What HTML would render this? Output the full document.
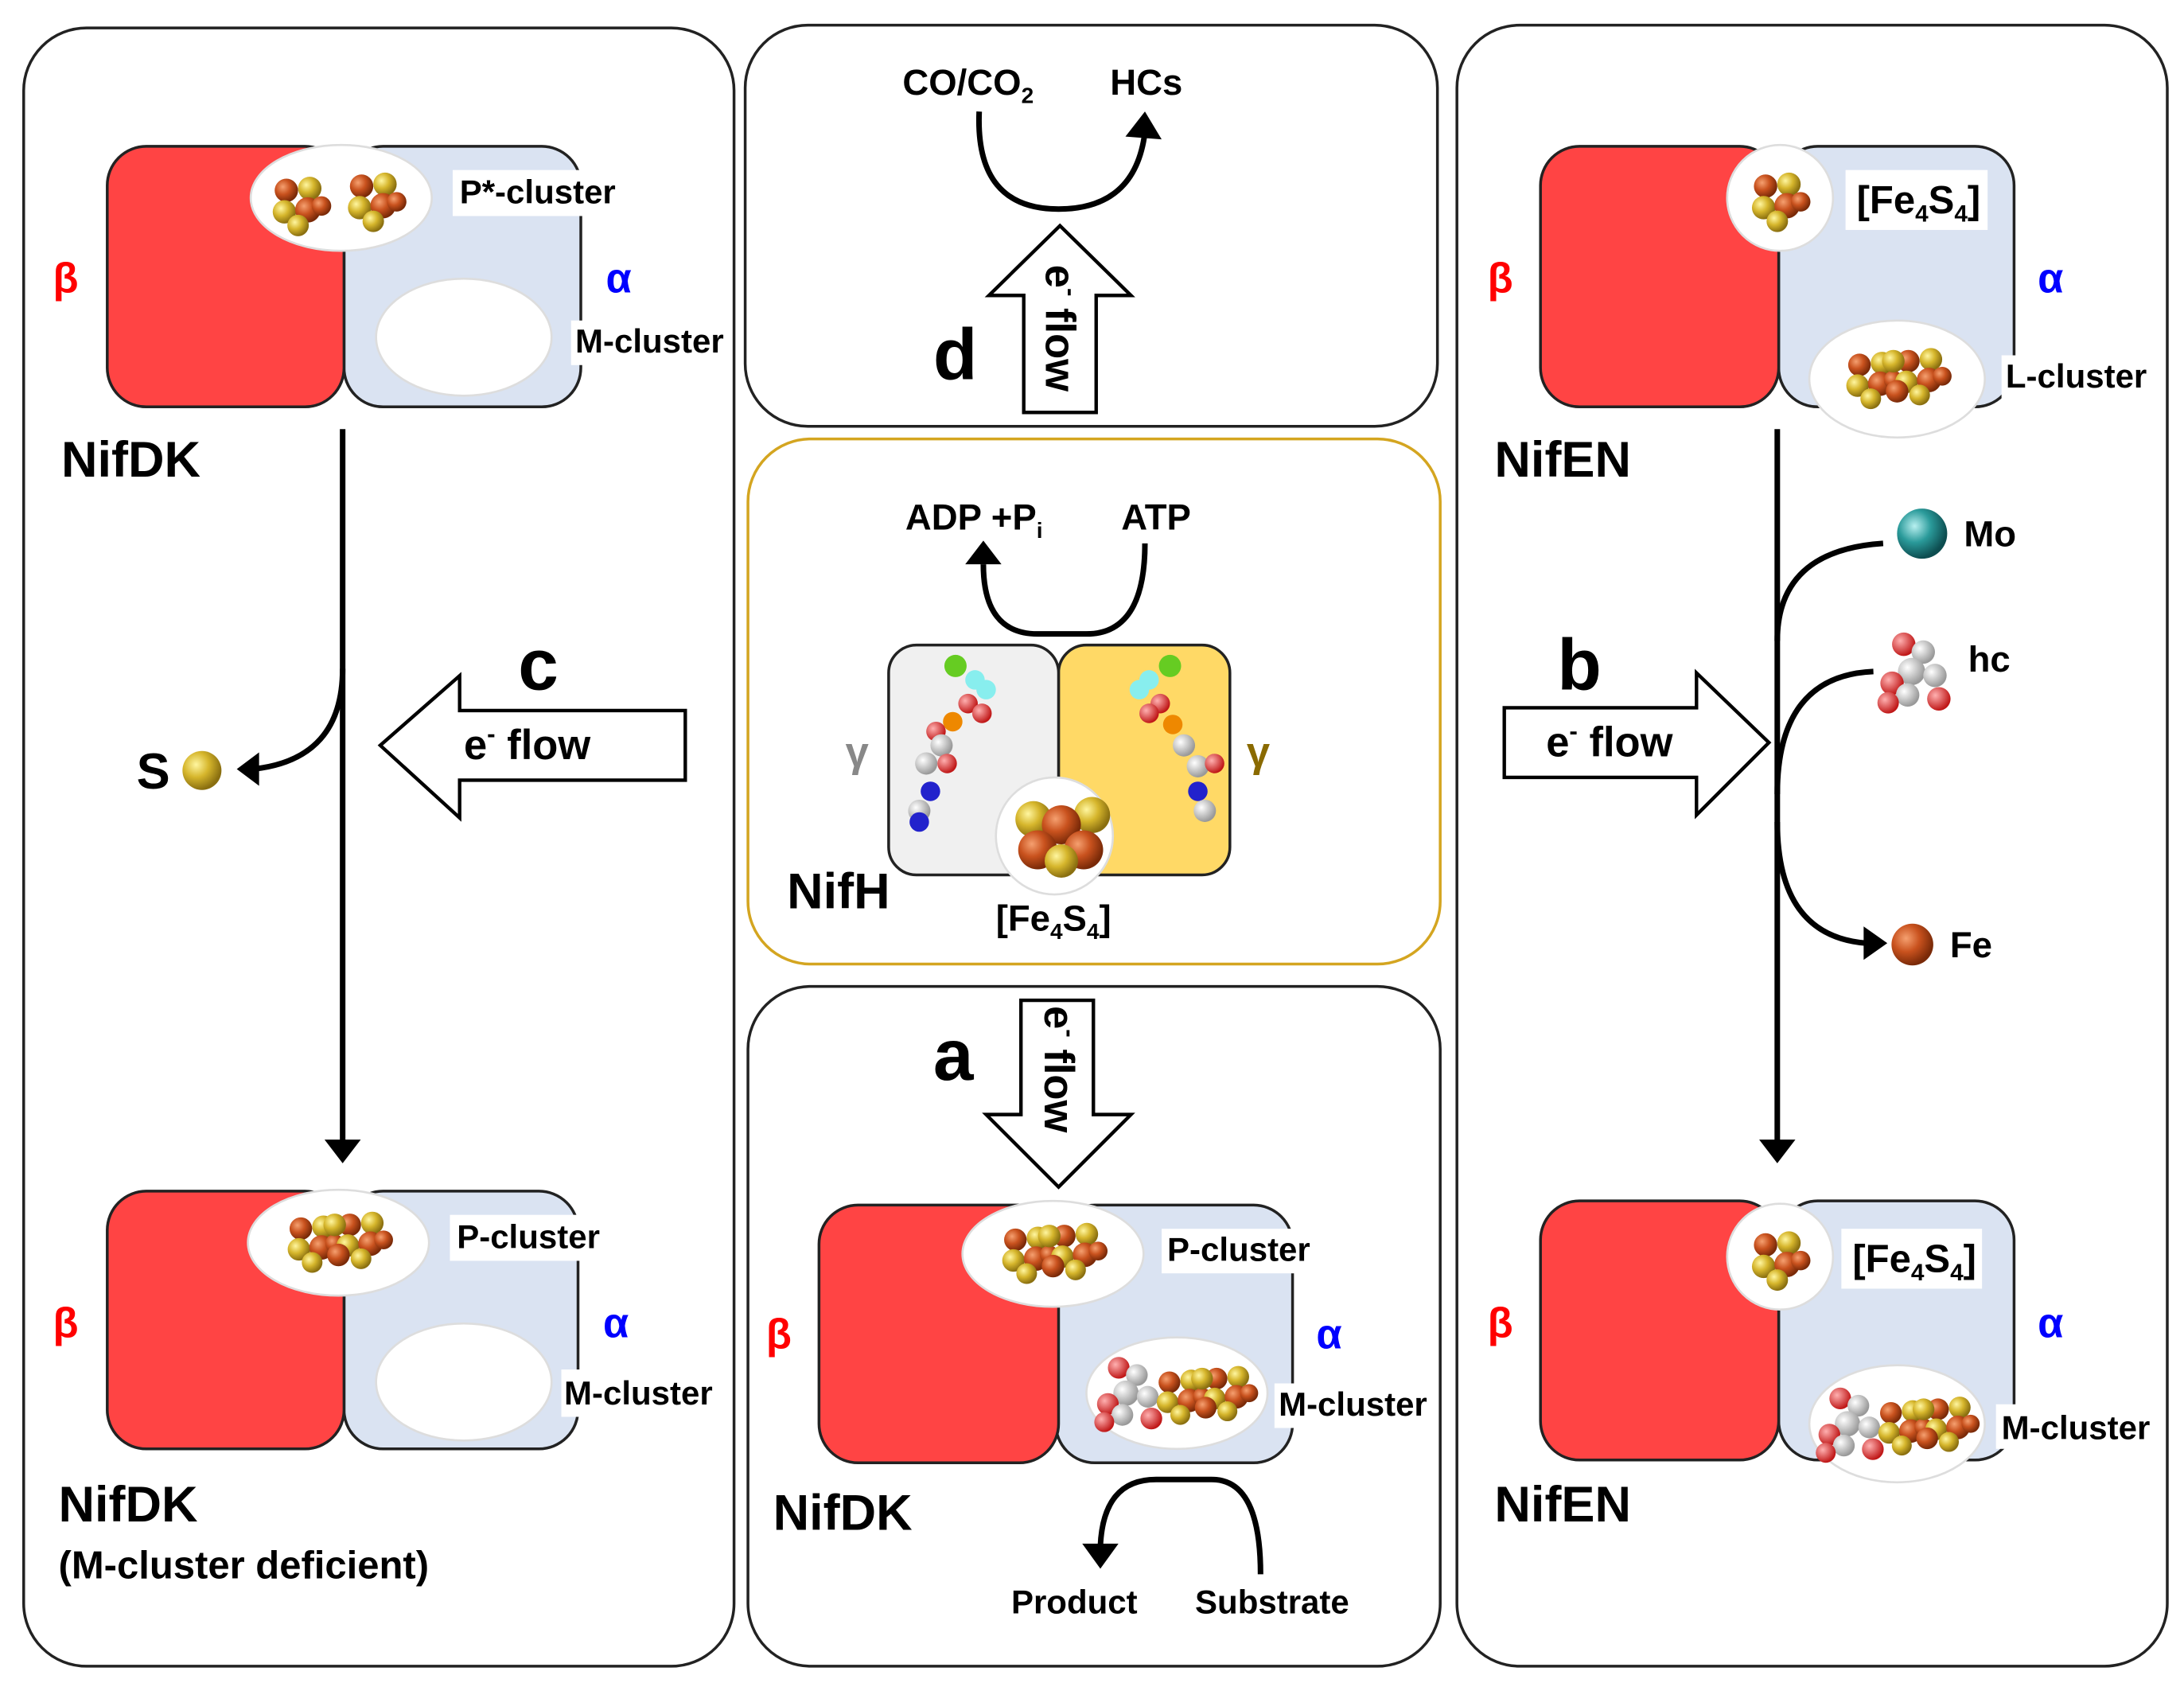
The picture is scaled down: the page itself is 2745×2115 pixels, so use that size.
<!DOCTYPE html>
<html><head><meta charset="utf-8"><style>
html,body{margin:0;padding:0;background:#fff}
svg{display:block}
text{font-family:"Liberation Sans",sans-serif;font-weight:bold}
</style></head><body>
<svg width="2745" height="2115" viewBox="0 0 1568 1208" xmlns="http://www.w3.org/2000/svg">
<defs>
<radialGradient id="gg" cx="35%" cy="35%" r="65%"><stop offset="0" stop-color="#fff6a0"/><stop offset="0.5" stop-color="#d6b62c"/><stop offset="1" stop-color="#8a6f10"/></radialGradient>
<radialGradient id="rr" cx="35%" cy="35%" r="65%"><stop offset="0" stop-color="#f5a070"/><stop offset="0.5" stop-color="#c9521e"/><stop offset="1" stop-color="#7a2a08"/></radialGradient>
<radialGradient id="tt" cx="35%" cy="35%" r="65%"><stop offset="0" stop-color="#b8f0f0"/><stop offset="0.5" stop-color="#2a9a9a"/><stop offset="1" stop-color="#0d4d50"/></radialGradient>
<radialGradient id="ww" cx="35%" cy="35%" r="65%"><stop offset="0" stop-color="#fff"/><stop offset="1" stop-color="#999"/></radialGradient>
<radialGradient id="oo" cx="35%" cy="35%" r="65%"><stop offset="0" stop-color="#ffb0b0"/><stop offset="1" stop-color="#c01818"/></radialGradient>
<g id="c4"><circle cx="-6" cy="-6" r="6" fill="url(#rr)"/><circle cx="6" cy="-7" r="6" fill="url(#gg)"/><circle cx="-7" cy="5" r="6" fill="url(#gg)"/><circle cx="5" cy="4" r="6.5" fill="url(#rr)"/><circle cx="0" cy="12" r="5.5" fill="url(#gg)"/><circle cx="12" cy="2" r="5" fill="url(#rr)"/></g>
<g id="c8"><use href="#c4" x="-14" y="0"/><use href="#c4" x="12" y="-2"/><circle cx="0" cy="8" r="6" fill="url(#rr)"/><circle cx="-2" cy="-8" r="6" fill="url(#gg)"/></g>
<g id="hc"><circle cx="-8" cy="-14" r="6" fill="url(#oo)"/><circle cx="2" cy="-10" r="6" fill="url(#ww)"/><circle cx="-4" cy="0" r="7" fill="url(#ww)"/><circle cx="8" cy="2" r="6" fill="url(#ww)"/><circle cx="-14" cy="6" r="6" fill="url(#oo)"/><circle cx="-6" cy="12" r="6" fill="url(#ww)"/><circle cx="10" cy="14" r="6" fill="url(#oo)"/><circle cx="-16" cy="16" r="5.5" fill="url(#oo)"/></g>
<g id="mc"><use href="#hc" x="-28" y="0"/><use href="#c8" x="12" y="0"/></g>
</defs>
<g fill="none" stroke="#222" stroke-width="2">
<rect x="17" y="20" width="510" height="1176" rx="45"/>
<rect x="535" y="18" width="497" height="288" rx="45"/>
<rect x="537" y="315" width="497" height="377" rx="45" stroke="#d4a520"/>
<rect x="537" y="708" width="497" height="488" rx="45"/>
<rect x="1046" y="18" width="510" height="1178" rx="45"/>
</g>
<g stroke="#222" stroke-width="2">
<rect x="247" y="105" width="170" height="187" rx="28" fill="#dae3f2"/>
<rect x="77" y="105" width="170" height="187" rx="28" fill="#ff4444"/>
<rect x="247" y="855" width="168" height="185" rx="28" fill="#dae3f2"/>
<rect x="77" y="855" width="170" height="185" rx="28" fill="#ff4444"/>
<rect x="758" y="865" width="170" height="185" rx="28" fill="#dae3f2"/>
<rect x="588" y="865" width="172" height="185" rx="28" fill="#ff4444"/>
<rect x="1277" y="105" width="169" height="187" rx="28" fill="#dae3f2"/>
<rect x="1106" y="105" width="171" height="187" rx="28" fill="#ff4444"/>
<rect x="1277" y="862" width="169" height="186" rx="28" fill="#dae3f2"/>
<rect x="1106" y="862" width="171" height="186" rx="28" fill="#ff4444"/>
<rect x="760" y="463" width="123" height="165" rx="20" fill="#ffd966"/>
<rect x="638" y="463" width="122" height="165" rx="20" fill="#f0f0f0"/>
</g>
<g fill="#fff">
<rect x="325" y="122" width="122" height="33"/><rect x="410" y="230" width="115" height="32"/>
<rect x="323" y="872" width="110" height="33"/><rect x="403" y="983" width="117" height="34"/>
<rect x="834" y="882" width="111" height="32"/><rect x="915" y="993" width="117" height="32"/>
<rect x="1437" y="255" width="108" height="33"/><rect x="1433" y="1008" width="117" height="32"/>
<rect x="1325" y="122" width="102" height="43"/><rect x="1322" y="882" width="101" height="43"/>
</g>
<g fill="#fff" stroke="#ddd" stroke-width="1.5">
<ellipse cx="245" cy="142" rx="65" ry="38"/><ellipse cx="333" cy="242" rx="63" ry="42"/>
<ellipse cx="243" cy="892" rx="65" ry="38"/><ellipse cx="333" cy="992" rx="63" ry="42"/>
<ellipse cx="756" cy="900" rx="65" ry="38"/><ellipse cx="845" cy="1000" rx="65" ry="40"/>
<circle cx="1278" cy="142" r="38"/><ellipse cx="1362" cy="272" rx="63" ry="42"/>
<circle cx="1278" cy="902" r="38"/><ellipse cx="1362" cy="1022" rx="63" ry="42"/>
<circle cx="757" cy="600" r="42"/>
</g>
<use href="#c4" transform="translate(214,145) scale(1.4)"/><use href="#c4" transform="translate(268,142) scale(1.4)"/>
<use href="#c8" transform="translate(243,890) scale(1.35)"/><use href="#c8" transform="translate(756,898) scale(1.35)"/>
<use href="#mc" transform="translate(850,1000) scale(1.3)"/><use href="#c8" transform="translate(1362,270) scale(1.35)"/>
<use href="#c4" transform="translate(1276,142) scale(1.4)"/><use href="#c4" transform="translate(1276,902) scale(1.4)"/>
<use href="#mc" transform="translate(1368,1022) scale(1.3)"/>
<g><circle cx="742" cy="588" r="13" fill="url(#gg)"/><circle cx="784" cy="585" r="13" fill="url(#gg)"/><circle cx="762" cy="592" r="14" fill="url(#rr)"/><circle cx="745" cy="610" r="14" fill="url(#rr)"/><circle cx="778" cy="610" r="14" fill="url(#rr)"/><circle cx="762" cy="618" r="12" fill="url(#gg)"/></g>
<g><circle cx="686" cy="478" r="8" fill="#6c2"/><circle cx="700" cy="488" r="7" fill="#8ee"/><circle cx="708" cy="495" r="7" fill="#8ee"/><circle cx="695" cy="505" r="7" fill="url(#oo)"/><circle cx="705" cy="512" r="7" fill="url(#oo)"/><circle cx="684" cy="518" r="7" fill="#e80"/><circle cx="672" cy="525" r="7" fill="url(#oo)"/><circle cx="676" cy="535" r="8" fill="url(#ww)"/><circle cx="665" cy="548" r="8" fill="url(#ww)"/><circle cx="680" cy="548" r="7" fill="url(#oo)"/><circle cx="668" cy="568" r="7" fill="#22c"/><circle cx="660" cy="582" r="8" fill="url(#ww)"/><circle cx="660" cy="590" r="7" fill="#22c"/></g>
<g><circle cx="840" cy="478" r="8" fill="#6c2"/><circle cx="825" cy="488" r="7" fill="#8ee"/><circle cx="818" cy="495" r="7" fill="#8ee"/><circle cx="833" cy="505" r="7" fill="url(#oo)"/><circle cx="825" cy="512" r="7" fill="url(#oo)"/><circle cx="842" cy="520" r="7" fill="#e80"/><circle cx="850" cy="535" r="8" fill="url(#ww)"/><circle cx="860" cy="550" r="8" fill="url(#ww)"/><circle cx="872" cy="548" r="7" fill="url(#oo)"/><circle cx="860" cy="568" r="7" fill="#22c"/><circle cx="865" cy="582" r="8" fill="url(#ww)"/></g>
<use href="#hc" transform="translate(1378,482) scale(1.4)"/>
<circle cx="1380" cy="383" r="18" fill="url(#tt)"/>
<circle cx="1373" cy="678" r="15" fill="url(#rr)"/>
<circle cx="145" cy="553" r="14" fill="url(#gg)"/>
<g fill="none" stroke="#000" stroke-width="4">
<path d="M246 308 V820"/><path d="M246 480 Q246 545 182 552"/>
<path d="M1276 308 V820"/><path d="M1276 460 Q1276 395 1352 390"/><path d="M1276 570 Q1276 485 1345 482"/><path d="M1276 590 Q1276 672 1340 677"/>
<path d="M703 80 Q700 150 760 150 Q815 150 822 95"/>
<path d="M822 390 Q822 455 780 455 H745 Q706 455 706 405"/>
<path d="M905 1130 Q905 1062 870 1062 H830 Q792 1062 790 1110"/>
</g>
<g fill="#000">
<path d="M233 818 L259 818 L246 835Z"/><path d="M1263 818 L1289 818 L1276 835Z"/>
<path d="M170 552 L186 540 L186 564Z"/><path d="M1355 677 L1338 665 L1338 689Z"/>
<path d="M822 80 L808 98 L834 100Z"/><path d="M706 388 L693 405 L719 405Z"/><path d="M790 1126 L777 1108 L803 1108Z"/>
</g>
<g fill="#fff" stroke="#000" stroke-width="2.5">
<path d="M273 535 L330 485 V510 H492 V560 H330 V587Z"/>
<path d="M1270 533 L1218 483 V508 H1080 V558 H1218 V585Z"/>
<path d="M761 162 L812 212 H787 V296 H735 V212 H710Z"/>
<path d="M760 852 L812 800 H785 V718 H733 V800 H708Z"/>
</g>
<g font-size="30">
<text x="333" y="545">e<tspan font-size="18" dy="-12">-</tspan><tspan dy="12"> flow</tspan></text>
<text x="1110" y="543">e<tspan font-size="18" dy="-12">-</tspan><tspan dy="12"> flow</tspan></text>
<text transform="translate(751,190) rotate(90)">e<tspan font-size="18" dy="-12">-</tspan><tspan dy="12"> flow</tspan></text>
<text transform="translate(750,722) rotate(90)">e<tspan font-size="18" dy="-12">-</tspan><tspan dy="12"> flow</tspan></text>
</g>
<g font-size="52"><text x="372" y="495">c</text><text x="1118" y="495">b</text><text x="670" y="272">d</text><text x="670" y="775">a</text></g>
<g font-size="36"><text x="44" y="342">NifDK</text><text x="42" y="1092">NifDK</text><text x="555" y="1098">NifDK</text><text x="1073" y="342">NifEN</text><text x="1073" y="1092">NifEN</text><text x="565" y="652">NifH</text><text x="98" y="566">S</text></g>
<text x="42" y="1133" font-size="28">(M-cluster deficient)</text>
<g font-size="24">
<text x="330" y="146">P*-cluster</text><text x="413" y="253">M-cluster</text>
<text x="328" y="896">P-cluster</text><text x="405" y="1008">M-cluster</text>
<text x="838" y="905">P-cluster</text><text x="918" y="1016">M-cluster</text>
<text x="1440" y="278">L-cluster</text><text x="1437" y="1033">M-cluster</text>
<text x="726" y="1158">Product</text><text x="858" y="1158">Substrate</text>
<text x="648" y="68" font-size="26">CO/CO<tspan font-size="16" dy="6">2</tspan></text><text x="797" y="68" font-size="26">HCs</text>
<text x="650" y="380" font-size="26">ADP +P<tspan font-size="16" dy="6">i</tspan></text><text x="805" y="380" font-size="26">ATP</text>
<text x="715" y="668" font-size="26">[Fe<tspan font-size="16" dy="6">4</tspan><tspan dy="-6">S</tspan><tspan font-size="16" dy="6">4</tspan><tspan dy="-6">]</tspan></text>
<text x="1333" y="153" font-size="28">[Fe<tspan font-size="17" dy="6">4</tspan><tspan dy="-6">S</tspan><tspan font-size="17" dy="6">4</tspan><tspan dy="-6">]</tspan></text>
<text x="1330" y="913" font-size="28">[Fe<tspan font-size="17" dy="6">4</tspan><tspan dy="-6">S</tspan><tspan font-size="17" dy="6">4</tspan><tspan dy="-6">]</tspan></text>
<text x="1410" y="392" font-size="26">Mo</text><text x="1413" y="482" font-size="26">hc</text><text x="1400" y="687" font-size="26">Fe</text>
</g>
<g font-size="30">
<text x="38" y="210" fill="#f00">β</text><text x="38" y="960" fill="#f00">β</text><text x="550" y="968" fill="#f00">β</text><text x="1068" y="210" fill="#f00">β</text><text x="1068" y="960" fill="#f00">β</text>
<text x="435" y="210" fill="#00f">α</text><text x="433" y="960" fill="#00f">α</text><text x="945" y="968" fill="#00f">α</text><text x="1463" y="210" fill="#00f">α</text><text x="1463" y="960" fill="#00f">α</text>
<text x="607" y="550" fill="#888">γ</text><text x="895" y="550" fill="#8a6a00">γ</text>
</g>
</svg>
</body></html>
